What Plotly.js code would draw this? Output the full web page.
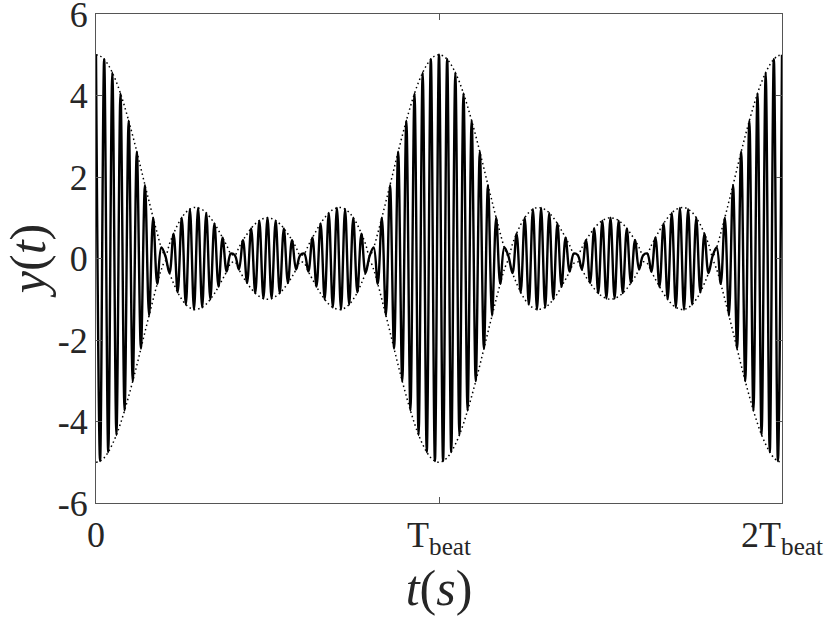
<!DOCTYPE html>
<html>
<head>
<meta charset="utf-8">
<script src="https://cdn.plot.ly/plotly-3.0.1.min.js"></script>
<style>html,body{margin:0;padding:0;background:#fff;}#chart{width:830px;height:623px;}</style>
</head>
<body>
<div id="chart"></div>
<script>
// Carrier half-cycle extrema of y(t), read along the beat envelope (index = half-cycle number)
var signalPeaks = [
 5.00,-4.97, 4.89,-4.75, 4.56,-4.33, 4.05,-3.73, 3.38,-3.01, 2.62,-2.21, 1.80,-1.40, 1.00,-0.62,
 0.27, 0.06,-0.36, 0.61,-0.83, 1.00,-1.13, 1.21,-1.25, 1.24,-1.20, 1.12,-1.00, 0.86,-0.69, 0.51,
-0.32, 0.12, 0.08,-0.27, 0.45,-0.60, 0.74,-0.85, 0.93,-0.98, 1.00,-0.98, 0.93,-0.85, 0.74,-0.60,
 0.45,-0.27, 0.08, 0.12,-0.32, 0.51,-0.69, 0.86,-1.00, 1.12,-1.20, 1.24,-1.25, 1.21,-1.13, 1.00,
-0.83, 0.61,-0.36, 0.06, 0.27,-0.62, 1.00,-1.40, 1.80,-2.21, 2.62,-3.01, 3.38,-3.73, 4.05,-4.33,
 4.56,-4.75, 4.89,-4.97, 5.00,
-4.97, 4.89,-4.75, 4.56,-4.33, 4.05,-3.73, 3.38,-3.01, 2.62,-2.21, 1.80,-1.40, 1.00,-0.62,
 0.27, 0.06,-0.36, 0.61,-0.83, 1.00,-1.13, 1.21,-1.25, 1.24,-1.20, 1.12,-1.00, 0.86,-0.69, 0.51,
-0.32, 0.12, 0.08,-0.27, 0.45,-0.60, 0.74,-0.85, 0.93,-0.98, 1.00,-0.98, 0.93,-0.85, 0.74,-0.60,
 0.45,-0.27, 0.08, 0.12,-0.32, 0.51,-0.69, 0.86,-1.00, 1.12,-1.20, 1.24,-1.25, 1.21,-1.13, 1.00,
-0.83, 0.61,-0.36, 0.06, 0.27,-0.62, 1.00,-1.40, 1.80,-2.21, 2.62,-3.01, 3.38,-3.73, 4.05,-4.33,
 4.56,-4.75, 4.89,-4.97, 5.00
];
var xTickVals = [0, 84, 168];
var xTickText = ['0', 'T<sub>beat</sub>', '2T<sub>beat</sub>'];
var yTickVals = [-6, -4, -2, 0, 2, 4, 6];
var yTickText = ['-6', '-4', '-2', '0', '2', '4', '6'];

var envUpper = signalPeaks.map(function(v){ return Math.abs(v); });
var envLower = signalPeaks.map(function(v){ return -Math.abs(v); });

var traces = [
  {y: signalPeaks, type: 'scatter', mode: 'lines',
   line: {color: '#000', width: 2.4, shape: 'spline', smoothing: 1}, hoverinfo: 'skip'},
  {y: envUpper, type: 'scatter', mode: 'lines',
   line: {color: '#000', width: 1.5, dash: '1.5px,3px', shape: 'spline', smoothing: 1}, hoverinfo: 'skip'},
  {y: envLower, type: 'scatter', mode: 'lines',
   line: {color: '#000', width: 1.5, dash: '1.5px,3px', shape: 'spline', smoothing: 1}, hoverinfo: 'skip'}
];

var serif = '"Liberation Serif", "Times New Roman", serif';
var layout = {
  width: 830, height: 623,
  margin: {l: 96, r: 48, t: 14, b: 120},
  paper_bgcolor: '#fff', plot_bgcolor: '#fff',
  showlegend: false,
  font: {family: serif, color: '#262626'},
  xaxis: {
    range: [0, 168], tickvals: xTickVals, ticktext: xTickText,
    showgrid: false, zeroline: false,
    showline: true, mirror: 'ticks', linecolor: '#555', linewidth: 1,
    ticks: 'inside', ticklen: 6, tickcolor: '#555', ticklabeloverflow: 'allow',
    tickfont: {family: serif, size: 36, color: '#262626'},
    title: {text: '<i>t</i>(<i>s</i>)', font: {family: serif, size: 50, color: '#262626'}, standoff: 0}
  },
  yaxis: {
    range: [-6, 6], tickvals: yTickVals, ticktext: yTickText,
    showgrid: false, zeroline: false,
    showline: true, mirror: 'ticks', linecolor: '#555', linewidth: 1,
    ticks: 'inside', ticklen: 6, tickcolor: '#555', ticklabeloverflow: 'allow',
    tickfont: {family: serif, size: 36, color: '#262626'},
    title: {text: '<i>y</i>(<i>t</i>)', font: {family: serif, size: 50, color: '#262626'}, standoff: 10}
  }
};
Plotly.newPlot('chart', traces, layout, {staticPlot: true, displayModeBar: false});
</script>
</body>
</html>
